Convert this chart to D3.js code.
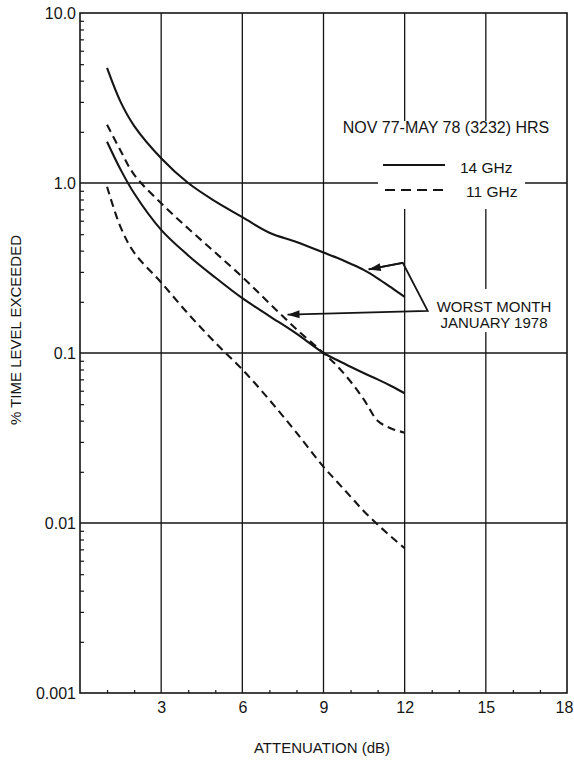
<!DOCTYPE html>
<html>
<head>
<meta charset="utf-8">
<script src="https://cdn.jsdelivr.net/npm/d3@7"></script>
<style>
  body { margin: 0; background: #fff; }
  text { font-family: "Liberation Sans", Arial, sans-serif; fill: #151515; }
</style>
</head>
<body>
<div id="chart"></div>
<script>
// attenuation values (dB) where the curves were read
var atten = [1, 1.5, 2, 3, 4, 5, 6, 7, 8, 9, 9.5, 10, 10.5, 11, 11.5, 12];

// % time level exceeded
var worst14 = [4.75, 3.0, 2.17, 1.4, 1.0, 0.78, 0.63, 0.51, 0.45, 0.39, 0.363, 0.335, 0.307, 0.275, 0.243, 0.214];
var total14 = [1.75, 1.2, 0.87, 0.53, 0.375, 0.278, 0.21, 0.165, 0.13, 0.1, 0.091, 0.083, 0.076, 0.07, 0.064, 0.058];
var worst11 = [2.2, 1.55, 1.12, 0.76, 0.54, 0.39, 0.28, 0.196, 0.138, 0.1, 0.084, 0.068, 0.053, 0.04, 0.036, 0.034];
var total11 = [0.95, 0.55, 0.39, 0.26, 0.17, 0.115, 0.08, 0.053, 0.034, 0.0214, 0.0175, 0.0143, 0.0117, 0.0098, 0.0083, 0.0071];

var xTicks = [3, 6, 9, 12, 15, 18];
var yTicks = [0.001, 0.01, 0.1, 1, 10];
var yTickLabels = ["0.001", "0.01", "0.1", "1.0", "10.0"];

// annotation arrow for "worst month" (in data units)
var arrowPath = [[10.67, 0.31], [11.93, 0.339], [12.85, 0.177], [7.67, 0.168]];

var W = 574, H = 760;
var svg = d3.select("#chart").append("svg")
  .attr("width", W)
  .attr("height", H);

var x = d3.scaleLinear().domain([0, 18]).range([80, 567]);
var y = d3.scaleLog().domain([0.001, 10]).range([693, 13]);

// arrowhead
svg.append("defs").append("marker")
  .attr("id", "arrowhead")
  .attr("viewBox", "0 -5 12 10")
  .attr("refX", 12)
  .attr("refY", 0)
  .attr("orient", "auto")
  .attr("markerUnits", "userSpaceOnUse")
  .attr("markerWidth", 14)
  .attr("markerHeight", 10)
  .append("path")
  .attr("d", "M0,-4 L12,0 L0,4 Z")
  .attr("fill", "#151515");

var grid = svg.append("g").attr("stroke", "#151515").attr("stroke-width", 1.3);

// vertical grid lines
grid.selectAll("line.v")
  .data(xTicks.slice(0, -1))
  .enter().append("line")
  .attr("x1", function (d) { return x(d); })
  .attr("x2", function (d) { return x(d); })
  .attr("y1", y(10))
  .attr("y2", y(0.001));

// horizontal grid lines
grid.selectAll("line.h")
  .data([0.01, 0.1, 1])
  .enter().append("line")
  .attr("x1", x(0))
  .attr("x2", x(18))
  .attr("y1", function (d) { return y(d); })
  .attr("y2", function (d) { return y(d); });

// frame
svg.append("rect")
  .attr("x", x(0)).attr("y", y(10))
  .attr("width", x(18) - x(0)).attr("height", y(0.001) - y(10))
  .attr("fill", "none")
  .attr("stroke", "#151515")
  .attr("stroke-width", 1.6);

// minor ticks on y axis
var yMinor = [];
[0.001, 0.01, 0.1, 1].forEach(function (p) {
  for (var k = 2; k <= 9; k++) yMinor.push(k * p);
});
svg.append("g")
  .attr("transform", "translate(" + x(0) + ",0)")
  .call(d3.axisRight(y).tickValues(yMinor).tickSize(4).tickFormat(""))
  .call(function (g) { g.select(".domain").remove(); })
  .selectAll("line").attr("stroke", "#151515").attr("stroke-width", 1.2);

// minor ticks on x axis
var xMinor = d3.range(1, 18).filter(function (d) { return d % 3 !== 0; });
svg.append("g")
  .attr("transform", "translate(0," + y(0.001) + ")")
  .call(d3.axisTop(x).tickValues(xMinor).tickSize(3).tickFormat(""))
  .call(function (g) { g.select(".domain").remove(); })
  .selectAll("line").attr("stroke", "#151515").attr("stroke-width", 1.2);

// y tick labels
var yAxis = svg.append("g")
  .attr("transform", "translate(" + x(0) + ",0)")
  .call(d3.axisLeft(y).tickValues(yTicks).tickSize(0).tickPadding(4)
    .tickFormat(function (d, i) { return yTickLabels[i]; }));
yAxis.select(".domain").remove();
yAxis.selectAll("text")
  .style("font-family", "'Liberation Sans', Arial, sans-serif")
  .style("font-size", "16px")
  .attr("fill", "#151515");

// x tick labels
var xAxis = svg.append("g")
  .attr("transform", "translate(0," + y(0.001) + ")")
  .call(d3.axisBottom(x).tickValues(xTicks).tickSize(0).tickPadding(9)
    .tickFormat(d3.format("d")));
xAxis.select(".domain").remove();
xAxis.selectAll("text")
  .style("font-family", "'Liberation Sans', Arial, sans-serif")
  .style("font-size", "16px")
  .attr("fill", "#151515")
  .attr("dx", function (d) { return d === 18 ? -3 : 0; });

// white-outs behind the legend and annotation text
svg.append("rect").attr("x", 378).attr("y", 121).attr("width", 147).attr("height", 88).attr("fill", "#fff");
svg.append("rect").attr("x", 432).attr("y", 289).attr("width", 124).attr("height", 43).attr("fill", "#fff");

// curves
var line = d3.line()
  .x(function (d) { return x(d[0]); })
  .y(function (d) { return y(d[1]); })
  .curve(d3.curveCatmullRom.alpha(0.5));

var series = [
  { values: worst14, dash: null },
  { values: total14, dash: null },
  { values: worst11, dash: "8,5" },
  { values: total11, dash: "8,5" }
];

svg.append("g").selectAll("path")
  .data(series)
  .enter().append("path")
  .attr("d", function (s) { return line(atten.map(function (a, i) { return [a, s.values[i]]; })); })
  .attr("fill", "none")
  .attr("stroke", "#151515")
  .attr("stroke-width", 2.1)
  .attr("stroke-dasharray", function (s) { return s.dash; });

// worst month arrows
svg.append("path")
  .attr("d", "M" + arrowPath.map(function (p) { return x(p[0]) + "," + y(p[1]); }).join("L"))
  .attr("fill", "none")
  .attr("stroke", "#151515")
  .attr("stroke-width", 1.8)
  .attr("marker-end", "url(#arrowhead)");
svg.append("line")
  .attr("x1", x(arrowPath[1][0])).attr("y1", y(arrowPath[1][1]))
  .attr("x2", x(arrowPath[0][0])).attr("y2", y(arrowPath[0][1]))
  .attr("stroke", "#151515")
  .attr("stroke-width", 1.8)
  .attr("marker-end", "url(#arrowhead)");

// legend
svg.append("text")
  .attr("x", 446).attr("y", 133)
  .attr("text-anchor", "middle")
  .style("font-size", "16px")
  .text("NOV 77-MAY 78 (3232) HRS");

svg.append("line")
  .attr("x1", 383).attr("x2", 445).attr("y1", 165).attr("y2", 165)
  .attr("stroke", "#151515").attr("stroke-width", 2);
svg.append("line")
  .attr("x1", 385).attr("x2", 445).attr("y1", 190).attr("y2", 190)
  .attr("stroke", "#151515").attr("stroke-width", 2)
  .attr("stroke-dasharray", "10,6");

svg.append("text").attr("x", 460).attr("y", 173).style("font-size", "15.5px").text("14 GHz");
svg.append("text").attr("x", 466).attr("y", 197).style("font-size", "15.5px").text("11 GHz");

svg.append("text").attr("x", 494).attr("y", 312).attr("text-anchor", "middle")
  .style("font-size", "15px").text("WORST MONTH");
svg.append("text").attr("x", 494).attr("y", 328).attr("text-anchor", "middle")
  .style("font-size", "15px").text("JANUARY 1978");

// axis titles
svg.append("text")
  .attr("x", 322).attr("y", 753)
  .attr("text-anchor", "middle")
  .style("font-size", "15px")
  .text("ATTENUATION (dB)");

svg.append("text")
  .attr("transform", "translate(21,330) rotate(-90)")
  .attr("text-anchor", "middle")
  .style("font-size", "15px")
  .text("% TIME LEVEL EXCEEDED");
</script>
</body>
</html>
